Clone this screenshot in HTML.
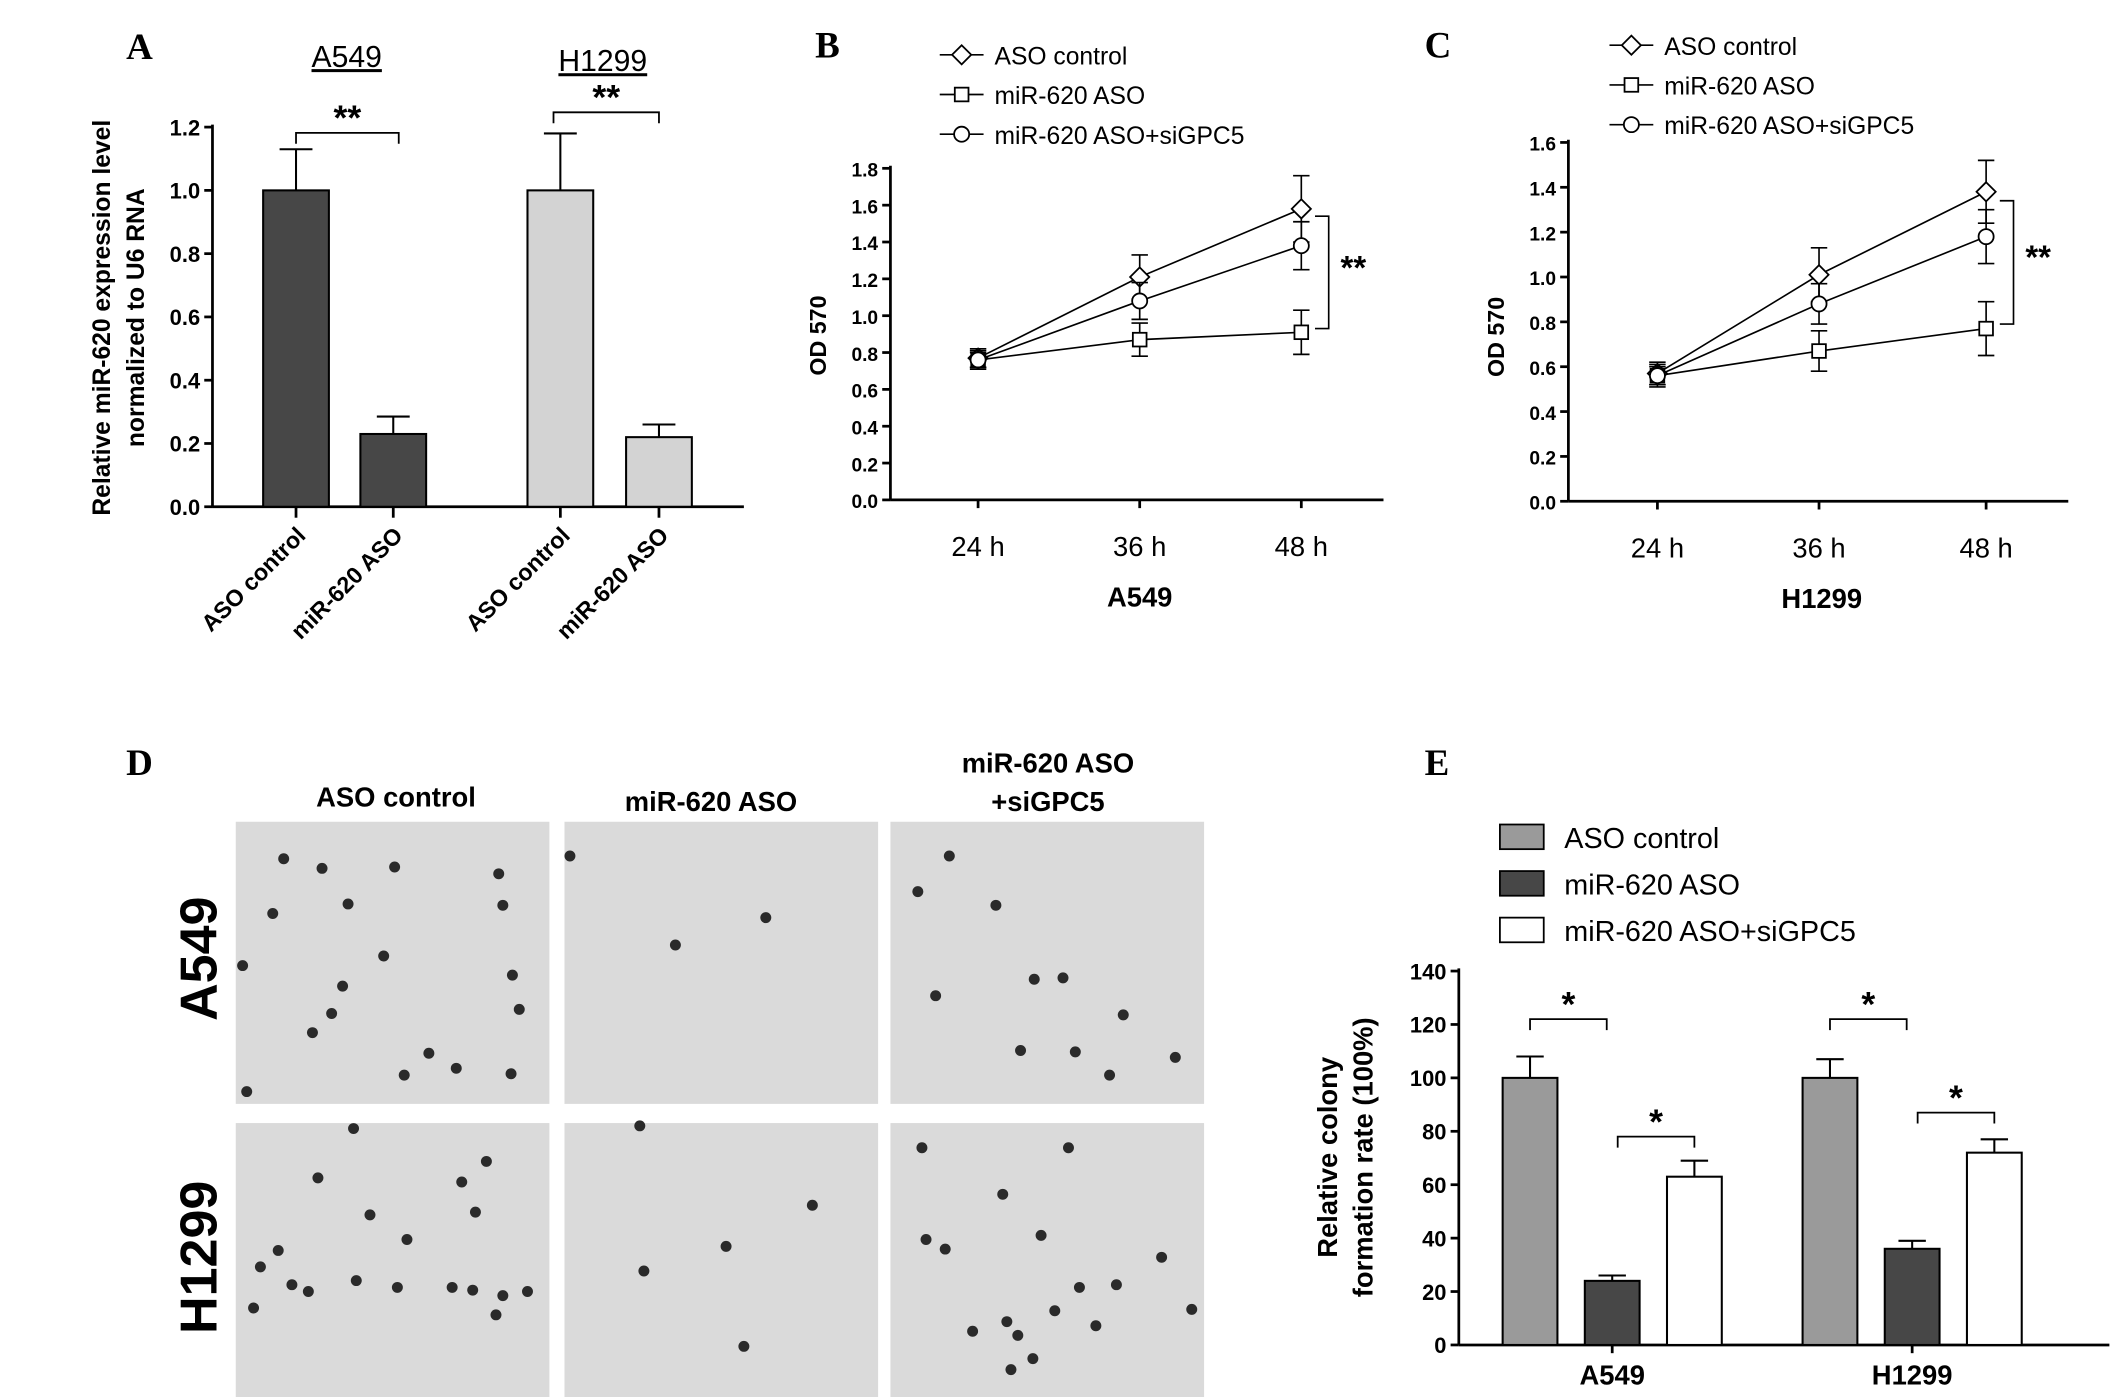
<!DOCTYPE html>
<html><head><meta charset="utf-8"><style>
html,body{margin:0;padding:0;background:#fff}
svg{display:block}
text{font-family:"Liberation Sans",Arial,sans-serif}
text.serif{font-family:"Liberation Serif",serif}
</style></head><body>
<svg id="s" width="2126" height="1397" viewBox="0 0 1552 1020"></svg>
<script>
// Panel A data
const aCats=["ASO control","miR-620 ASO","ASO control","miR-620 ASO"];
const aVals=[1.0,0.23,1.0,0.22];
const aErr=[0.13,0.055,0.18,0.04];
const aTicks=[0,0.2,0.4,0.6,0.8,1.0,1.2];
// Panel B data
const timeLabels=["24 h","36 h","48 h"];
const bCtrl=[0.77,1.21,1.58], bCtrlE=[0.05,0.12,0.18];
const bAso=[0.76,0.87,0.91], bAsoE=[0.05,0.09,0.12];
const bSi=[0.76,1.08,1.38], bSiE=[0.04,0.10,0.13];
const bTicks=[0,0.2,0.4,0.6,0.8,1.0,1.2,1.4,1.6,1.8];
// Panel C data
const cCtrl=[0.57,1.01,1.38], cCtrlE=[0.05,0.12,0.14];
const cAso=[0.56,0.67,0.77], cAsoE=[0.05,0.09,0.12];
const cSi=[0.56,0.88,1.18], cSiE=[0.04,0.09,0.12];
const cTicks=[0,0.2,0.4,0.6,0.8,1.0,1.2,1.4,1.6];
// Panel E data
const eGroups=["A549","H1299"];
const eCtrl=[100,100], eCtrlE=[8,7];
const eAso=[24,36], eAsoE=[2,3];
const eSi=[63,72], eSiE=[6,5];
const eTicks=[0,20,40,60,80,100,120,140];

const S=document.getElementById('s');const NS='http://www.w3.org/2000/svg';
function el(t,a,txt,p){const e=document.createElementNS(NS,t);for(const k in a)e.setAttribute(k,a[k]);if(txt!=null)e.textContent=txt;(p||S).appendChild(e);return e;}
function line(x1,y1,x2,y2,w,name){const e=el('line',{x1,y1,x2,y2,stroke:'#000','stroke-width':w||1.5});

return e;}
function txt(x,y,s,size,opts){const a=Object.assign({x,y,'font-size':size,'font-weight':'bold','text-anchor':'middle',fill:'#000'},opts||{});delete a.name;const e=el('text',a,s);

return e;}
function panelLetter(x,y,s){const e=el('text',{x,y,'font-size':27,'font-weight':'bold','class':'serif'},s);

}
function yAxis(x,y0,yTop,x2,ticks,sc,fmt,size){line(x,y0,x,yTop-2,2,'y-axis');line(x,y0,x2,y0,2,'x-axis');
ticks.forEach(t=>{const y=sc(t);line(x-6,y,x,y,2,'y-tick');txt(x-9,y+6,fmt(t),size||16,{'text-anchor':'end',name:'y-tick-label'});});}
function errBar(x,y,yt,cap,name){line(x,y,x,yt,1.5,name);line(x-cap,yt,x+cap,yt,1.5,name+'-cap');}
function bracket(x1,x2,y,h,stars,name){const p=el('path',{d:`M${x1},${y+h} V${y} H${x2} V${y+h}`,fill:'none',stroke:'#000','stroke-width':1.3});


txt((x1+x2)/2,y-2,stars,26,{name:name+'-stars'});}

// ===== Panel A =====
panelLetter(92,43,'A');
const aY=v=>370-v/0.2*46.2;
yAxis(155,370,93,543,aTicks,aY,t=>t.toFixed(1),16);
const aX=[216,287,409,481], aCol=['#474747','#474747','#d3d3d3','#d3d3d3'];
aVals.forEach((v,i)=>{errBar(aX[i],aY(v),aY(v+aErr[i]),12,'a-error-'+i);
const r=el('rect',{x:aX[i]-24,y:aY(v),width:48,height:370-aY(v),fill:aCol[i],stroke:'#000','stroke-width':1.5});


line(aX[i],370,aX[i],378,2,'x-tick');
txt(aX[i]+8,392,aCats[i],17,{'text-anchor':'end',transform:`rotate(-45 ${aX[i]+8} 392)`,name:'x-tick-label'});});
txt(253,49,'A549',22,{'font-weight':'normal','text-decoration':'underline',name:'group-title-a549'});
txt(440,52,'H1299',22,{'font-weight':'normal','text-decoration':'underline',name:'group-title-h1299'});
bracket(216,291,97,8,'**','sig-a549');bracket(404,481,82,8,'**','sig-h1299');
txt(0,0,'Relative miR-620 expression level',18,{transform:'translate(80,232) rotate(-90)',name:'y-axis-title-a'});
txt(0,0,'normalized to U6 RNA',18,{transform:'translate(105,232) rotate(-90)',name:'y-axis-title-a-2'});

// ===== Line panels =====
function marker(type,x,y,name){let e;
if(type==='d')e=el('path',{d:`M${x},${y-7} L${x+7},${y} L${x},${y+7} L${x-7},${y} Z`});
else if(type==='s')e=el('rect',{x:x-5,y:y-5,width:10,height:10});
else e=el('circle',{cx:x,cy:y,r:5.5});
e.setAttribute('fill','#fff');e.setAttribute('stroke','#000');e.setAttribute('stroke-width',1.3);

}
function linePanel(ax,y0,yTop,x2,ticks,per,xs,series,city,lx,ly){
const Y=v=>y0-v/0.2*per;
yAxis(ax,y0,yTop,x2,ticks,Y,t=>t.toFixed(1),14);
xs.forEach((x,i)=>{line(x,y0,x,y0+6,2,'x-tick');txt(x,y0+41,timeLabels[i],20,{'font-weight':'normal',name:'x-tick-label'});});
txt((xs[0]+xs[2])/2,y0+78,city,20,{name:'x-axis-title'});
txt(0,0,'OD 570',17,{transform:`translate(${ax-47},${y0-120}) rotate(-90)`,name:'y-axis-title'});
series.forEach(s=>{const pts=s.v.map((v,i)=>xs[i]+','+Y(v)).join(' ');
const pl=el('polyline',{points:pts,fill:'none',stroke:'#000','stroke-width':1.2});


s.v.forEach((v,i)=>{line(xs[i],Y(v-s.e[i]),xs[i],Y(v+s.e[i]),1.2,'error-bar');
line(xs[i]-6,Y(v+s.e[i]),xs[i]+6,Y(v+s.e[i]),1.2,'error-cap');line(xs[i]-6,Y(v-s.e[i]),xs[i]+6,Y(v-s.e[i]),1.2,'error-cap');
marker(s.m,xs[i],Y(v),'point-'+s.m);});});
const bot=Y(series[1].v[2]+0.02);
const p=el('path',{d:`M${xs[2]+10},${Y(series[0].v[2]-0.04)} H${xs[2]+20} V${bot} H${xs[2]+10}`,fill:'none',stroke:'#000','stroke-width':1.2});


txt(xs[2]+38,Y((series[0].v[2]+series[1].v[2])/2)+6,'**',24,{name:'sig-stars'});
const names=['ASO control','miR-620 ASO','miR-620 ASO+siGPC5'];
series.forEach((s,i)=>{const y=ly+i*29;line(lx,y,lx+32,y,1.2,'legend-line');marker(s.m,lx+16,y,'legend-marker');
txt(lx+40,y+7,names[i],18,{'font-weight':'normal','text-anchor':'start',name:'legend-entry'});});}
panelLetter(595,42,'B');
linePanel(650,365,123,1010,bTicks,26.9,[714,832,950],[{v:bCtrl,e:bCtrlE,m:'d'},{v:bAso,e:bAsoE,m:'s'},{v:bSi,e:bSiE,m:'c'}],'A549',686,40);
panelLetter(1040,42,'C');
linePanel(1145,366,104,1510,cTicks,32.75,[1210,1328,1450],[{v:cCtrl,e:cCtrlE,m:'d'},{v:cAso,e:cAsoE,m:'s'},{v:cSi,e:cSiE,m:'c'}],'H1299',1175,33);

// ===== Panel D =====
panelLetter(92,566,'D');
txt(289,589,'ASO control',20,{name:'col-title-control'});
txt(519,592,'miR-620 ASO',20,{name:'col-title-aso'});
txt(765,564,'miR-620 ASO',20,{name:'col-title-si'});txt(765,592,'+siGPC5',20,{name:'col-title-si-2'});
txt(0,0,'A549',38,{transform:'translate(158,700) rotate(-90)',name:'row-title-a549'});
txt(0,0,'H1299',38,{transform:'translate(158,918) rotate(-90)',name:'row-title-h1299'});
const cols=[172,412,650], rows=[600,820];
const dots=[
[[207,627],[235,634],[288,633],[364,638],[199,667],[254,660],[367,661],[280,698],[250,720],[242,740],[379,737],[228,754],[313,769],[295,785],[333,780],[373,784],[180,797],[374,712],[177,705]],
[[416,625],[559,670],[493,690]],
[[693,625],[670,651],[727,661],[683,727],[776,714],[755,715],[745,767],[785,768],[810,785],[858,772],[820,741]],
[[258,824],[232,860],[270,887],[355,848],[337,863],[347,885],[297,905],[203,913],[225,943],[260,935],[190,925],[213,938],[185,955],[290,940],[330,940],[345,942],[367,946],[385,943],[362,960]],
[[467,822],[593,880],[530,910],[470,928],[543,983]],
[[673,838],[676,905],[690,912],[732,872],[760,902],[780,838],[848,918],[815,938],[788,940],[770,957],[735,965],[743,975],[710,972],[754,992],[738,1000],[800,968],[870,956]]];
let k=0;rows.forEach((ry,r)=>cols.forEach((cx,c)=>{const g=el('rect',{x:cx,y:ry,width:229,height:r?201:206,fill:'#dadada'});


dots[k++].forEach(d=>{const e=el('circle',{cx:d[0],cy:d[1],r:4,fill:'#2a2a2a'});});}));

// ===== Panel E =====
panelLetter(1040,566,'E');
const eY=v=>982-v/20*39;
yAxis(1065,982,709,1540,eTicks,eY,t=>String(t),16);
const eCols=['#9a9a9a','#474747','#ffffff'];
const eSeries=[[eCtrl,eCtrlE],[eAso,eAsoE],[eSi,eSiE]];
const eBase=[1117,1336];
eGroups.forEach((g,gi)=>{eSeries.forEach((s,si)=>{const x=eBase[gi]+si*60,v=s[0][gi];
errBar(x,eY(v),eY(v+s[1][gi]),10,'e-error');
const r=el('rect',{x:x-20,y:eY(v),width:40,height:982-eY(v),fill:eCols[si],stroke:'#000','stroke-width':1.5});

});
txt(eBase[gi]+60,1011,g,20,{name:'x-tick-label'});line(eBase[gi]+60,982,eBase[gi]+60,988,2,'x-tick');
bracket(eBase[gi],eBase[gi]+56,eY(eSeries[0][0][gi]+22),8,'*','sig-e-1');
bracket(eBase[gi]+64,eBase[gi]+120,eY(eSeries[2][0][gi]+15),8,'*','sig-e-2');});
txt(0,0,'Relative colony',20,{transform:'translate(976,845) rotate(-90)',name:'y-axis-title-e'});
txt(0,0,'formation rate (100%)',20,{transform:'translate(1002,845) rotate(-90)',name:'y-axis-title-e-2'});
['ASO control','miR-620 ASO','miR-620 ASO+siGPC5'].forEach((n,i)=>{const y=602+i*34;
const r=el('rect',{x:1095,y,width:32,height:18,fill:eCols[i],stroke:'#000','stroke-width':1.3});


txt(1142,y+17,n,21,{'font-weight':'normal','text-anchor':'start',name:'legend-entry'});});
</script>
</body></html>
